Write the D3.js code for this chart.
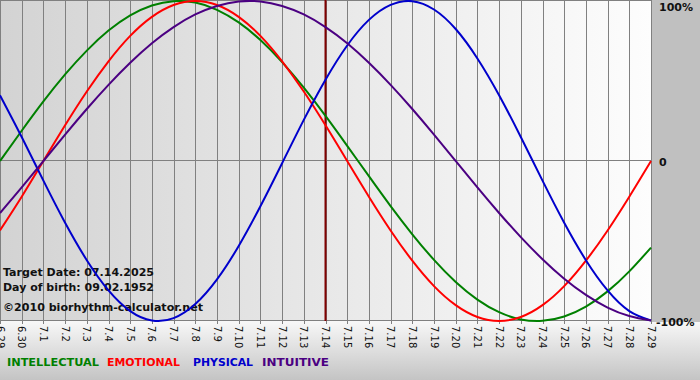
<!DOCTYPE html>
<html><head><meta charset="utf-8">
<script src="https://cdn.jsdelivr.net/npm/d3@7"></script>
<style>html,body{margin:0;padding:0;background:#fff;}svg{display:block;}</style>
</head><body>
<svg id="c" width="700" height="380"></svg>
<script>
const dates = ["6.29","6.30","7.1","7.2","7.3","7.4","7.5","7.6","7.7","7.8","7.9","7.10","7.11","7.12","7.13","7.14","7.15","7.16","7.17","7.18","7.19","7.20","7.21","7.22","7.23","7.24","7.25","7.26","7.27","7.28","7.29"];
const intellectual = [0,0.189,0.372,0.541,0.690,0.815,0.910,0.972,0.999,0.990,0.945,0.866,0.756,0.618,0.458,0.282,0.095,-0.095,-0.282,-0.458,-0.618,-0.756,-0.866,-0.945,-0.990,-0.999,-0.972,-0.910,-0.815,-0.690,-0.541];
const emotional = [-0.434,-0.223,0,0.223,0.434,0.623,0.782,0.901,0.975,1.000,0.975,0.901,0.782,0.623,0.434,0.223,0,-0.223,-0.434,-0.623,-0.782,-0.901,-0.975,-1.000,-0.975,-0.901,-0.782,-0.623,-0.434,-0.223,0];
const physical = [0.411,0.150,-0.123,-0.386,-0.620,-0.809,-0.938,-0.997,-0.982,-0.894,-0.740,-0.531,-0.283,-0.014,0.257,0.508,0.722,0.882,0.976,0.999,0.947,0.825,0.641,0.411,0.150,-0.123,-0.386,-0.620,-0.809,-0.938,-0.997];
const intuitive = [-0.325,-0.165,0,0.165,0.325,0.476,0.614,0.736,0.837,0.916,0.969,0.997,0.997,0.969,0.916,0.837,0.736,0.614,0.476,0.325,0.165,0,-0.165,-0.325,-0.476,-0.614,-0.736,-0.837,-0.916,-0.969,-0.997];
const yTicks = [1, 0, -1];
const yTickLabels = ["100%", "0", "-100%"];
const targetDate = "7.14";
const infoLines = ["Target Date: 07.14.2025", "Day of birth: 09.02.1952", "©2010 biorhythm-calculator.net"];
const seriesNames = ["INTELLECTUAL", "EMOTIONAL", "PHYSICAL", "INTUITIVE"];

const colors = {INTELLECTUAL:"#008000", EMOTIONAL:"#ff0000", PHYSICAL:"#0000cc", INTUITIVE:"#4b0082"};
const seriesData = {INTELLECTUAL:intellectual, EMOTIONAL:emotional, PHYSICAL:physical, INTUITIVE:intuitive};

const svg = d3.select("#c");
const W = 700, H = 380, plotR = 651, plotT = 1, plotB = 321;
const x = d3.scaleLinear().domain([0, dates.length - 1]).range([0, plotR]);
const y = d3.scaleLinear().domain([-1, 1]).range([plotB, plotT]);

const defs = svg.append("defs");
const g1 = defs.append("linearGradient").attr("id","plotbg").attr("x1","0").attr("x2","1").attr("y1","0").attr("y2","0");
g1.append("stop").attr("offset","0").attr("stop-color","#d3d3d3");
g1.append("stop").attr("offset","1").attr("stop-color","#fdfdfd");
const g2 = defs.append("linearGradient").attr("id","botbg").attr("x1","0").attr("x2","0").attr("y1","0").attr("y2","1");
g2.append("stop").attr("offset","0").attr("stop-color","#f8f8f8");
g2.append("stop").attr("offset","1").attr("stop-color","#c4c4c4");

// backgrounds
svg.append("rect").attr("x",0).attr("y",plotB).attr("width",W).attr("height",H-plotB).attr("fill","url(#botbg)");
svg.append("rect").attr("x",plotR).attr("y",0).attr("width",W-plotR).attr("height",plotB+1).attr("fill","#c0c0c0");
svg.append("rect").attr("x",0).attr("y",0).attr("width",plotR).attr("height",plotB).attr("fill","url(#plotbg)");

// vertical grid + ticks
const grid = svg.append("g").attr("stroke","#808080").attr("stroke-width",1).attr("shape-rendering","crispEdges");
dates.forEach((d,i) => {
  const xx = Math.round(x(i)) + 0.5;
  grid.append("line").attr("x1",xx).attr("x2",xx).attr("y1",0).attr("y2",plotB + 3);
});
// horizontal lines
[plotT, y(0), plotB].forEach(v => {
  const yy = Math.round(v) - 0.5;
  grid.append("line").attr("x1",0).attr("x2",plotR + 1).attr("y1",yy).attr("y2",yy);
});

// target date line
const ti = dates.indexOf(targetDate);
svg.append("line").attr("x1",x(ti)).attr("x2",x(ti)).attr("y1",0).attr("y2",plotB)
  .attr("stroke","#800000").attr("stroke-width",2);

// info text
const infoY = [276, 291, 311];
const infoW = [151, 151, 200];
infoLines.forEach((t,i) => {
  svg.append("text").attr("x",3).attr("y",infoY[i]).text(t)
    .attr("font-family","DejaVu Sans, Verdana, sans-serif").attr("font-weight","bold").attr("font-size","11px")
    .attr("fill","#111").attr("textLength",infoW[i]).attr("lengthAdjust","spacingAndGlyphs");
});

// curves
const line = d3.line().x((d,i) => x(i)).y(d => y(d)).curve(d3.curveNatural);
seriesNames.forEach(n => {
  svg.append("path").attr("d", line(seriesData[n])).attr("fill","none")
    .attr("stroke", colors[n]).attr("stroke-width",2).attr("stroke-linejoin","round");
});

// x labels (rotated)
dates.forEach((d,i) => {
  svg.append("text").text(d)
    .attr("transform", `translate(${x(i)},${plotB + 5}) rotate(90)`)
    .attr("dy","0.35em")
    .attr("font-family","DejaVu Sans, Verdana, sans-serif").attr("font-size","10px").attr("fill","#111");
});

// right axis labels
const yLabY = [11, 166, 326];
yTicks.forEach((v,i) => {
  svg.append("text").text(yTickLabels[i]).attr("x", i === 2 ? 656 : 659).attr("y", yLabY[i])
    .attr("font-family","DejaVu Sans, Verdana, sans-serif").attr("font-weight","bold").attr("font-size","11px")
    .attr("fill","#111");
});

// legend
const legX = [7, 107, 193, 262];
const legW = [92, 73, 60, 67];
seriesNames.forEach((n,i) => {
  svg.append("text").text(n).attr("x", legX[i]).attr("y", 366)
    .attr("font-family","DejaVu Sans, Verdana, sans-serif").attr("font-weight","bold").attr("font-size","11px")
    .attr("fill", colors[n]).attr("textLength", legW[i]).attr("lengthAdjust","spacingAndGlyphs");
});
</script>
</body></html>
